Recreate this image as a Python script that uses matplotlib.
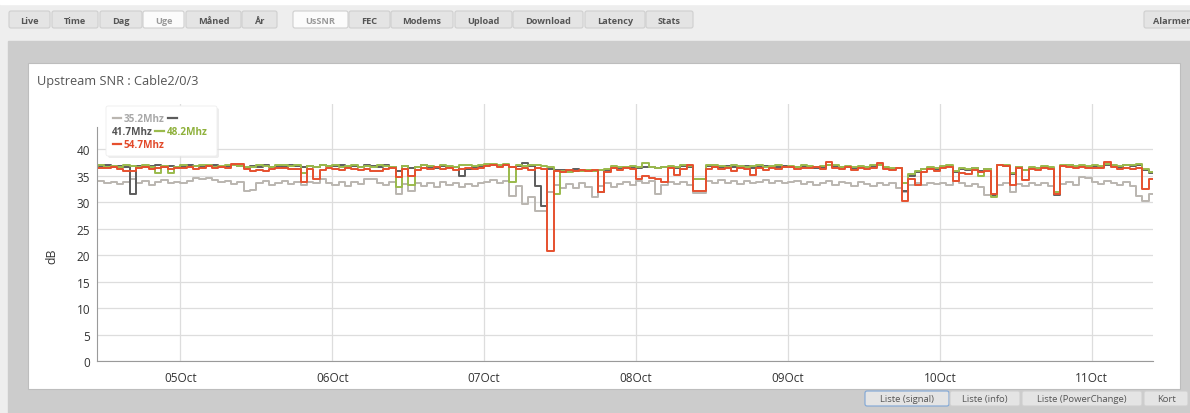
import matplotlib
matplotlib.use("Agg")
import matplotlib.pyplot as plt
import matplotlib.dates as mdates
from matplotlib.patches import Rectangle, FancyBboxPatch
import numpy as np
import pandas as pd

plt.rcParams['font.family'] = ['Open Sans', 'DejaVu Sans']

# -------------------------------------------------
#  Data: hourly SNR (dB), 04 Oct 10:00 -> 11 Oct 10:00
# -------------------------------------------------
start = '2015-10-04 10:00'

snr_35_2 = [33.9, 34.0, 33.6, 33.8, 33.4, 33.7, 34.4, 33.6, 33.9, 33.3, 33.8, 34.1, 33.5, 33.8,
            33.6, 34.0, 34.5, 34.4, 34.6, 34.2, 33.7, 33.9, 33.4, 33.8, 32.1, 32.3, 33.5, 33.9, 33.3, 33.6, 34.0, 33.4, 33.8, 33.2, 33.7, 33.5, 34.4, 33.6,
            33.3, 33.7, 33.1, 33.8, 33.4, 34.4, 34.3, 33.6, 33.2, 33.7, 31.5, 33.4, 32.1, 33.6, 33.0, 33.5, 32.9, 33.7, 33.2, 33.6, 32.8, 33.4, 33.1, 33.5,
            33.8, 34.2, 33.6, 34.0, 31.2, 33.0, 29.6, 31.0, 28.4, 28.4, 31.8, 33.2, 32.7, 33.4, 32.6, 33.5, 32.9, 30.9, 33.1, 33.6, 32.9, 33.4, 33.7, 33.2,
            34.0, 33.5, 33.9, 31.5, 33.3, 33.8, 33.4, 33.7, 33.3, 31.7, 31.7, 33.9, 33.5, 34.1, 33.6, 33.9, 33.4, 34.0, 33.6, 33.8, 34.2, 33.5, 33.9, 33.6,
            33.7, 33.9, 33.4, 33.8, 33.2, 33.6, 33.9, 33.3, 33.7, 33.5, 33.1, 33.8, 33.4, 33.0, 33.6, 33.2, 33.5, 32.7, 31.9, 33.3, 33.6, 33.2, 33.5, 33.4,
            33.5, 33.3, 34.0, 33.6, 33.1, 33.4, 32.9, 31.3, 31.3, 33.2, 33.5, 31.9, 33.4, 33.0, 33.6, 33.2, 33.5, 33.1, 31.5, 33.4, 33.7, 33.3, 34.7, 34.5,
            33.8, 33.4, 33.9, 33.5, 33.3, 33.7, 33.1, 31.2, 30.2, 31.5, 33.0]

snr_41_7 = [36.7, 36.8, 36.9, 36.6, 36.8, 36.7, 31.5, 36.8, 36.6, 36.8, 36.9, 36.7, 36.8, 36.7,
            36.7, 36.9, 36.8, 36.6, 36.8, 36.9, 36.7, 36.8, 36.9, 36.8, 36.5, 36.8, 36.7, 36.9, 36.6, 36.8, 36.7, 36.9, 36.8, 36.6, 36.8, 36.7, 36.9, 36.8,
            36.8, 36.9, 36.7, 36.8, 36.6, 36.9, 36.8, 36.7, 36.9, 36.6, 35.9, 36.8, 36.5, 36.7, 36.9, 36.7, 36.5, 36.8, 36.7, 36.6, 34.9, 36.2, 36.6, 36.8,
            36.9, 37.0, 36.8, 36.9, 36.7, 36.8, 37.4, 36.8, 33.1, 29.3, 36.3, 36.0, 36.1, 35.9, 36.2, 36.0, 36.1, 35.9, 31.9, 36.1, 36.5, 36.4, 36.6, 36.5,
            36.5, 36.7, 36.6, 36.4, 36.6, 36.7, 36.5, 36.8, 36.6, 34.3, 34.3, 36.8, 36.7, 36.6, 36.8, 36.7, 36.6, 36.8, 36.5, 36.7, 36.8, 36.6, 36.7, 36.8,
            36.7, 36.6, 36.8, 36.7, 36.5, 36.7, 36.9, 36.8, 36.6, 36.7, 36.5, 36.7, 36.6, 36.8, 36.9, 36.5, 36.3, 36.4, 32.1, 35.0, 35.6, 36.2, 36.5, 36.3,
            36.7, 36.8, 35.6, 36.3, 36.1, 36.4, 35.8, 36.2, 31.3, 36.9, 36.8, 35.2, 36.6, 36.0, 36.5, 36.4, 36.7, 36.5, 31.3, 36.8, 36.9, 36.7, 36.8, 36.7,
            36.8, 36.7, 37.0, 36.8, 36.7, 36.9, 36.8, 37.0, 36.0, 35.4, 36.2]

snr_48_2 = [36.8, 36.9, 36.7, 36.8, 36.6, 36.9, 36.8, 36.7, 36.9, 36.6, 35.5, 36.8, 35.5, 36.7,
            36.9, 36.7, 36.8, 37.0, 36.9, 36.7, 36.8, 36.9, 37.0, 36.8, 36.6, 36.7, 36.9, 36.8, 36.7, 36.9, 37.0, 36.8, 36.9, 35.5, 36.8, 36.7, 36.9, 36.8,
            36.9, 36.7, 36.8, 36.9, 36.6, 36.8, 36.7, 36.9, 36.8, 36.7, 32.8, 36.8, 33.2, 36.7, 36.9, 36.8, 36.6, 36.9, 36.8, 36.7, 36.9, 37.0, 36.8, 36.9,
            37.1, 37.2, 37.0, 37.2, 33.8, 36.9, 36.8, 37.0, 36.9, 36.8, 36.6, 31.6, 35.9, 35.7, 35.9, 35.8, 36.0, 35.8, 36.0, 36.2, 36.8, 36.6, 36.7, 36.8,
            36.6, 37.3, 36.7, 36.5, 36.6, 36.8, 36.7, 36.9, 36.8, 34.3, 34.3, 37.0, 36.9, 36.8, 36.7, 36.9, 36.8, 36.7, 36.8, 36.9, 36.7, 36.8, 36.9, 36.7,
            36.8, 36.7, 36.9, 36.8, 36.6, 36.8, 37.0, 36.9, 36.7, 36.8, 36.6, 36.8, 36.7, 36.9, 37.0, 36.6, 36.4, 36.5, 33.5, 35.2, 35.8, 36.3, 36.6, 36.4,
            36.8, 36.9, 35.8, 36.4, 36.2, 36.5, 35.0, 36.3, 30.9, 37.0, 36.9, 35.5, 36.7, 36.1, 36.6, 36.5, 36.8, 36.6, 31.8, 36.9, 37.0, 36.8, 36.9, 36.8,
            36.9, 36.8, 37.1, 36.9, 36.8, 37.0, 36.9, 37.1, 36.2, 35.6, 36.4]

snr_54_7 = [36.5, 36.5, 36.4, 36.6, 36.3, 35.9, 35.9, 36.4, 36.6, 36.3, 36.5, 36.6, 36.2, 36.5,
            36.4, 36.6, 36.3, 36.5, 36.8, 36.4, 36.6, 36.5, 37.2, 37.1, 36.2, 35.9, 36.0, 35.8, 36.3, 36.5, 36.4, 36.2, 36.3, 33.8, 36.2, 34.3, 36.1, 36.4,
            36.3, 36.1, 36.4, 36.2, 36.0, 36.3, 35.8, 35.8, 36.2, 36.4, 34.7, 36.2, 35.0, 36.1, 36.5, 36.3, 36.6, 36.2, 36.4, 36.0, 36.3, 36.5, 36.2, 36.4,
            36.8, 37.0, 36.7, 36.9, 36.6, 36.3, 36.5, 36.1, 36.4, 36.2, 20.8, 35.9, 35.7, 36.0, 35.8, 36.1, 35.9, 36.0, 31.9, 35.6, 36.4, 36.0, 36.5, 36.2,
            34.3, 35.0, 34.5, 34.3, 33.8, 36.4, 35.1, 36.3, 37.0, 32.1, 32.1, 36.3, 36.6, 36.2, 36.4, 35.9, 36.5, 36.2, 35.1, 36.4, 36.1, 36.5, 36.3, 36.6,
            36.6, 36.3, 36.5, 36.4, 36.7, 36.2, 37.5, 36.5, 36.3, 36.6, 36.1, 36.4, 36.2, 36.5, 37.3, 36.3, 36.0, 36.4, 30.2, 34.4, 33.2, 35.6, 36.2, 35.8,
            36.4, 36.6, 34.0, 35.5, 35.2, 36.0, 35.6, 35.9, 31.5, 37.0, 36.8, 33.2, 36.4, 34.2, 36.3, 36.0, 36.4, 36.2, 31.5, 36.8, 36.6, 36.5, 36.7, 36.5,
            36.5, 36.4, 37.5, 36.6, 36.3, 36.5, 36.2, 36.4, 32.5, 34.4, 35.3]

series_names = ['35.2Mhz', '41.7Mhz', '48.2Mhz', '54.7Mhz']
series_colors = ['#bab6b0', '#5c5c5c', '#9aba4c', '#e6502e']
top_buttons = ['Live', 'Time', 'Dag', 'Uge', 'Måned', 'År']
top_buttons2 = ['UsSNR', 'FEC', 'Modems', 'Upload', 'Download', 'Latency', 'Stats']
bottom_buttons = ['Liste (signal)', 'Liste (info)', 'Liste (PowerChange)', 'Kort']

times = pd.date_range(start, periods=len(snr_54_7), freq='h')

W, H = 1190, 414
fig = plt.figure(figsize=(W / 100, H / 100), dpi=100)

# -------------------------------------------------
#  Page background, toolbar and buttons (pixel coords)
# -------------------------------------------------
bg = fig.add_axes([0, 0, 1, 1], zorder=-2)
bg.set_xlim(0, W)
bg.set_ylim(H, 0)
bg.axis('off')
bg.add_patch(Rectangle((0, 0), W, H, color='#eeeeee'))
bg.add_patch(Rectangle((0, 0), W, 5, color='#ffffff'))
bg.add_patch(Rectangle((8, 42), W - 8, H - 42, color='#cccccc'))
bg.add_patch(Rectangle((28, 64), 1152, 326, facecolor='#ffffff', edgecolor='#bdbdbd', lw=0.8))


def button(x0, x1, y0, y1, label, active=False, bold=True, edge='#cfcfcf'):
    face = '#fbfbfb' if active else '#e4e4e4'
    bg.add_patch(FancyBboxPatch((x0, y0), x1 - x0, y1 - y0,
                                boxstyle='round,pad=0,rounding_size=2',
                                facecolor=face, edgecolor=edge, lw=0.8))
    bg.text((x0 + x1) / 2, (y0 + y1) / 2 + 0.5, label, ha='center', va='center',
            fontsize=6.6 if bold else 6.8, fontweight='bold' if bold else 'normal',
            color='#9a9a9a' if active else '#555555')


top_x = [(9, 50), (52, 98), (100, 142), (143, 184), (186, 241), (242, 277)]
for (x0, x1), lab in zip(top_x, top_buttons):
    button(x0, x1, 12, 29, lab, active=(lab == 'Uge'))
top_x2 = [(293, 348), (349, 390), (391, 453), (455, 512), (513, 583), (585, 645), (646, 693)]
for (x0, x1), lab in zip(top_x2, top_buttons2):
    button(x0, x1, 12, 29, lab, active=(lab == 'UsSNR'))
button(1144, 1200, 12, 29, 'Alarmer')

bot_x = [(865, 949), (950, 1020), (1022, 1142), (1144, 1188)]
for (x0, x1), lab in zip(bot_x, bottom_buttons):
    button(x0, x1, 392, 407, lab, bold=False,
           edge='#7ea6d6' if lab == 'Liste (signal)' else '#cfcfcf')

bg.text(37, 82, 'Upstream SNR : Cable2/0/3', ha='left', va='center',
        fontsize=9.2, color='#555555')
bg.text(52, 256, 'dB', ha='center', va='center', rotation=90,
        fontsize=8.8, color='#333333')

# -------------------------------------------------
#  Chart
# -------------------------------------------------
ax = fig.add_axes([97 / W, 1 - 362 / H, (1153 - 97) / W, (362 - 105) / H])
ax.patch.set_visible(False)
for vals, col in zip([snr_35_2, snr_41_7, snr_48_2, snr_54_7], series_colors):
    ax.plot(times, vals, drawstyle='steps-post', color=col, lw=1.4)

ax.set_xlim(pd.Timestamp('2015-10-04 10:50'), pd.Timestamp('2015-10-11 09:40'))
ax.set_ylim(0, 48.5)
ax.set_yticks(np.arange(0, 41, 5))
ax.xaxis.set_major_locator(mdates.DayLocator())
ax.xaxis.set_major_formatter(mdates.DateFormatter('%d%b'))
ax.grid(True, color='#dddddd', lw=0.9)
ax.set_axisbelow(True)
for s in ['top', 'right']:
    ax.spines[s].set_visible(False)
ax.spines['left'].set_color('#9a9a9a')
ax.spines['bottom'].set_color('#9a9a9a')
ax.spines['left'].set_bounds(0, 44.2)
ax.tick_params(axis='both', length=0, labelsize=8.5, colors='#333333')
ax.tick_params(axis='y', pad=5)
ax.tick_params(axis='x', pad=7)

# -------------------------------------------------
#  Legend box (pixel coords)
# -------------------------------------------------
ov = fig.add_axes([0, 0, 1, 1], zorder=5)
ov.set_xlim(0, W)
ov.set_ylim(H, 0)
ov.axis('off')
ov.add_patch(FancyBboxPatch((108, 109), 111, 50, boxstyle='round,pad=0,rounding_size=2',
                            facecolor='#e2e2e2', edgecolor='none', alpha=0.6))
ov.add_patch(FancyBboxPatch((106, 107), 111, 50, boxstyle='round,pad=0,rounding_size=2',
                            facecolor='#ffffff', edgecolor='#eeeeee', lw=0.6))
fs = 7.2
ov.plot([113, 121], [119, 119], color=series_colors[0], lw=1.6)
ov.text(124, 119.5, series_names[0], ha='left', va='center', fontsize=fs, fontweight='bold', color='#a8a8a8')
ov.plot([168, 177], [119, 119], color=series_colors[1], lw=1.6)
ov.text(112, 132.5, series_names[1], ha='left', va='center', fontsize=fs, fontweight='bold', color='#555555')
ov.plot([155, 164], [132, 132], color=series_colors[2], lw=1.6)
ov.text(167, 132.5, series_names[2], ha='left', va='center', fontsize=fs, fontweight='bold', color='#8fb13c')
ov.plot([113, 121], [145, 145], color=series_colors[3], lw=1.6)
ov.text(124, 145.5, series_names[3], ha='left', va='center', fontsize=fs, fontweight='bold', color='#e2492a')

fig.savefig('out.png', dpi=100)
